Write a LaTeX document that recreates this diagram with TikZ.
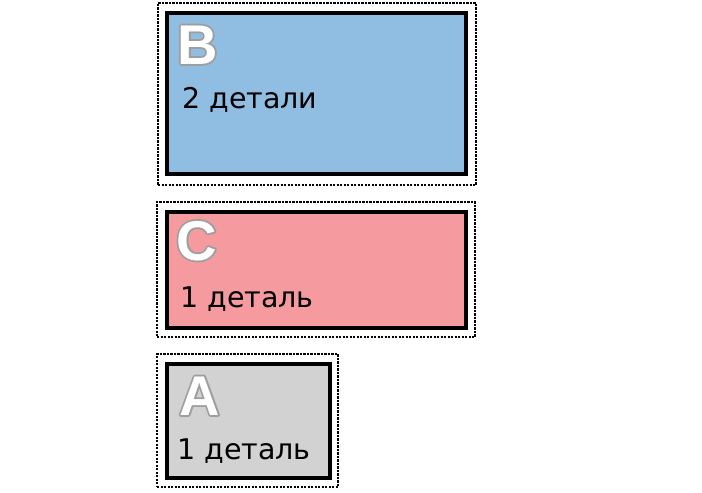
\documentclass[tikz,border=0pt]{standalone}
\usepackage{fontspec}
\setmainfont{DejaVu Sans}
\newfontfamily\letterfont{Liberation Sans Bold}
\definecolor{bblue}{RGB}{143,190,226}
\definecolor{cpink}{RGB}{245,155,160}
\definecolor{agray}{RGB}{210,210,210}
\newcommand{\outlined}[1]{\rlap{\textcolor{white}{\special{pdf:literal direct 1 Tr 3.6 w 1 J 1 j 0.62 0.62 0.62 RG}#1\special{pdf:literal direct 0 Tr}}}\textcolor{white}{#1}}
\begin{document}
\begin{tikzpicture}[x=1pt,y=-1pt,
  outerbox/.style={draw=black, line width=1.7pt, dash pattern=on 2.2pt off 1.3pt, inner sep=0pt, outer sep=0pt},
  innerbox/.style={draw=black, line width=4pt, inner sep=0pt, outer sep=0pt},
  letter/.style={anchor=base west, inner sep=0pt, font=\letterfont\fontsize{56}{56}\selectfont},
  count/.style={anchor=base west, inner sep=0pt, font=\fontsize{28.5}{28.5}\selectfont, text=black}]
\useasboundingbox (0,0) rectangle (702,493);
% B
\node[outerbox, minimum width=318pt, minimum height=182pt] (Bo) at (317,94) {};
\node[innerbox, fill=bblue, minimum width=299pt, minimum height=161pt] (Bi) at (316.5,93.5) {};
\node[letter] (Bl) at (177,64) {\outlined{B}};
\node[count] (Bt) at (182,108) {2 детали};
% C
\node[outerbox, minimum width=318pt, minimum height=135pt] (Co) at (316,269.5) {};
\node[innerbox, fill=cpink, minimum width=299pt, minimum height=116pt] (Ci) at (316.5,270) {};
\node[letter] (Cl) at (176,260) {\outlined{C}};
\node[count] (Ct) at (180,307) {1 деталь};
% A
\node[outerbox, minimum width=181pt, minimum height=133pt] (Ao) at (247.5,420.5) {};
\node[innerbox, fill=agray, minimum width=163pt, minimum height=114pt] (Ai) at (248.5,421) {};
\node[letter] (Al) at (179,415) {\outlined{A}};
\node[count] (At) at (177,459) {1 деталь};
\end{tikzpicture}
\end{document}
